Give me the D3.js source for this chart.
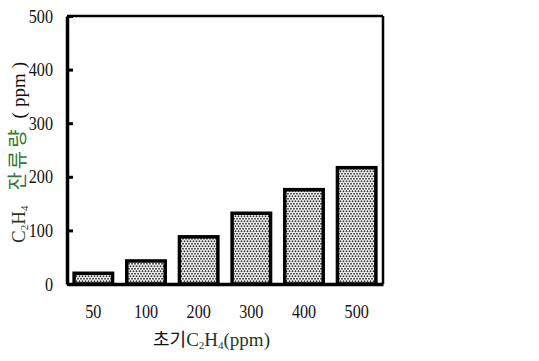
<!DOCTYPE html>
<html>
<head>
<meta charset="utf-8">
<script src="https://cdn.jsdelivr.net/npm/d3@7"></script>
<style>
  body { margin: 0; background: #fff; }
  svg { display: block; }
</style>
</head>
<body>
<script>
const w = 539
const h = 361

// data
const doses = ["50", "100", "200", "300", "400", "500"]
const residue = [20, 43, 88, 132, 176, 217]
const yTicks = [0, 100, 200, 300, 400, 500]

const plotLeft = 67, plotRight = 383, plotTop = 16, plotBottom = 284
const serif = "'Liberation Serif', 'Times New Roman', serif"
const kor = "'Noto Sans CJK KR', sans-serif"
const dark = "#1f3a22"
const green = "#2f7a35"

const svg = d3.select("body").append("svg")
  .attr("width", w).attr("height", h)

// dotted fill like the printed screen tone
const pat = svg.append("defs").append("pattern")
  .attr("id", "dots")
  .attr("patternUnits", "userSpaceOnUse")
  .attr("width", 6).attr("height", 5)
pat.append("rect").attr("width", 6).attr("height", 5).attr("fill", "#fff")
const dotPos = [[1.5, 1.25], [4.5, 1.25], [0, 3.75], [3, 3.75], [6, 3.75]]
dotPos.forEach(p => pat.append("circle")
  .attr("cx", p[0]).attr("cy", p[1]).attr("r", 0.95).attr("fill", "#333"))

const x = d3.scaleBand()
  .domain(doses)
  .range([plotLeft, plotRight])
  .paddingInner(0.27)
  .paddingOuter(0.135)

const y = d3.scaleLinear()
  .domain([0, 500])
  .range([plotBottom, plotTop])

// bars
svg.selectAll("rect.bar")
  .data(residue)
  .enter()
  .append("rect")
  .attr("class", "bar")
  .attr("x", (d, i) => x(doses[i]))
  .attr("y", d => y(d))
  .attr("width", x.bandwidth())
  .attr("height", d => plotBottom - y(d))
  .attr("fill", "url(#dots)")
  .attr("stroke", "#000")
  .attr("stroke-width", 3.5)

// frame top and right
svg.append("line")
  .attr("x1", plotLeft).attr("x2", plotRight).attr("y1", plotTop).attr("y2", plotTop)
  .attr("stroke", "#000").attr("stroke-width", 2.5)
svg.append("line")
  .attr("x1", plotRight).attr("x2", plotRight).attr("y1", plotTop).attr("y2", plotBottom)
  .attr("stroke", "#000").attr("stroke-width", 2.5)

// y axis, ticks pointing inside
const yAxis = svg.append("g")
  .attr("transform", `translate(${plotLeft},0)`)
  .call(d3.axisLeft(y).tickValues(yTicks).tickSizeInner(-6).tickSizeOuter(0).tickPadding(14))
yAxis.select(".domain").attr("stroke-width", 3.5)
yAxis.selectAll(".tick line").attr("stroke-width", 3)
yAxis.selectAll(".tick text")
  .attr("font-family", serif).attr("font-size", 19).attr("fill", "#111")
  .attr("x", -14 / 0.85)
  .attr("transform", "scale(0.85,1)")

// x axis, labels only
const xAxis = svg.append("g")
  .attr("transform", `translate(0,${plotBottom})`)
  .call(d3.axisBottom(x).tickSize(0).tickPadding(21))
xAxis.select(".domain").attr("stroke-width", 3.5)
xAxis.selectAll(".tick text")
  .attr("font-family", serif).attr("font-size", 19).attr("fill", "#111")
  .attr("transform", "scale(0.85,1)")

// x title
const xt = svg.append("text")
  .attr("x", 153).attr("y", 346)
  .attr("font-family", serif).attr("font-size", 19)
xt.append("tspan").text("초기").attr("font-family", kor).attr("font-size", 18).attr("fill", "#111")
xt.append("tspan").text("C").attr("fill", dark)
xt.append("tspan").text("2").attr("font-size", 11).attr("dy", 3).attr("fill", dark)
xt.append("tspan").text("H").attr("dy", -3).attr("fill", dark)
xt.append("tspan").text("4").attr("font-size", 11).attr("dy", 3).attr("fill", dark)
xt.append("tspan").text("(ppm)").attr("dy", -3).attr("fill", dark)

// y title, rotated
const yt = svg.append("text")
  .attr("transform", "translate(25,243) rotate(-90)")
  .attr("font-family", serif).attr("font-size", 19)
yt.append("tspan").text("C").attr("fill", dark)
yt.append("tspan").text("2").attr("font-size", 11).attr("dy", 3).attr("fill", dark)
yt.append("tspan").text("H").attr("dy", -3).attr("fill", dark)
yt.append("tspan").text("4").attr("font-size", 11).attr("dy", 3).attr("fill", dark)
yt.append("tspan").text("잔류량").attr("dy", -3).attr("dx", 15)
  .attr("font-family", kor).attr("font-size", 20).attr("letter-spacing", 3).attr("fill", green)
yt.append("tspan").text("(").attr("dx", 8).attr("fill", "#111")
yt.append("tspan").text("ppm").attr("dx", 5).attr("fill", "#111")
yt.append("tspan").text(")").attr("dx", 5).attr("fill", "#111")
</script>
</body>
</html>
